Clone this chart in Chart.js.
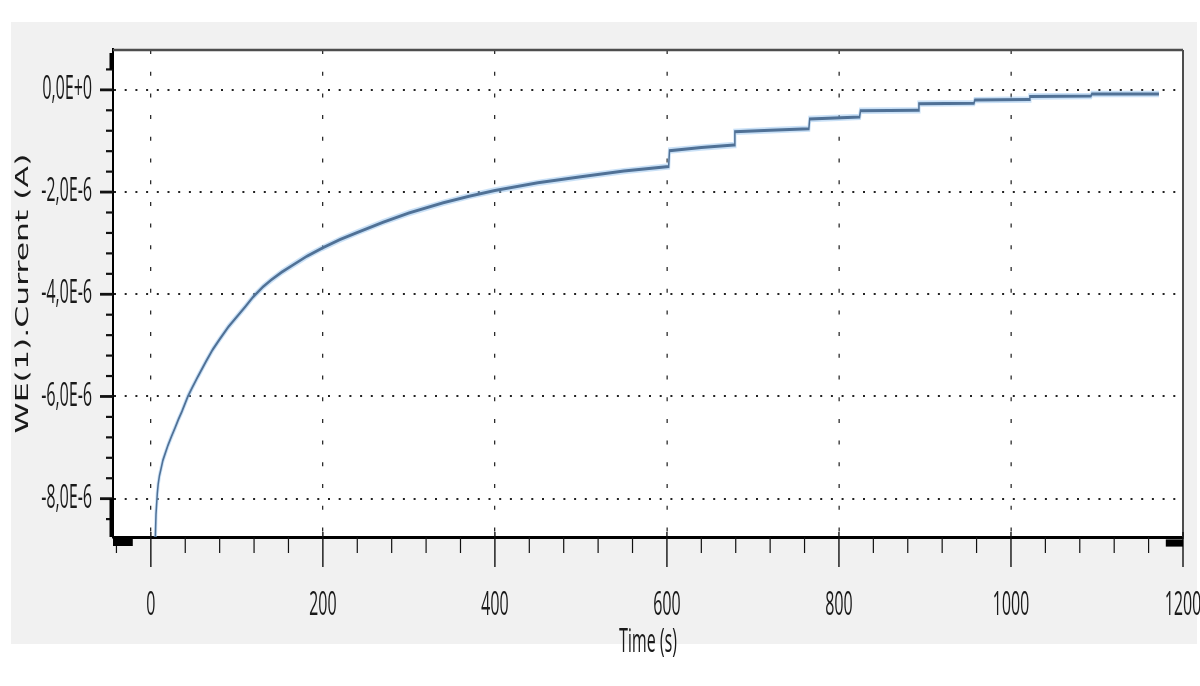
<!DOCTYPE html>
<html>
<head>
<meta charset="utf-8">
<script src="https://cdn.jsdelivr.net/npm/chart.js@4"></script>
<style>
  html, body { margin: 0; padding: 0; background: #ffffff; width: 1200px; height: 686px; overflow: hidden; }
  #page { position: relative; width: 1200px; height: 686px; overflow: hidden; }
  /* the plot is laid out at half height and stretched vertically to the page */
  #frame { position: absolute; left: 0; top: 0; width: 1200px; height: 343px; transform: scaleY(2); transform-origin: 0 0; }
  #frame canvas { display: block; }
</style>
</head>
<body>
<div id="page"><div id="frame"><canvas id="chart"></canvas></div></div>
<script>
// chronoamperometry record: time (s) and working-electrode current (A)
const timeS = [4, 5, 6, 7.5, 8.5, 10, 12, 14, 17, 20, 24, 28, 32, 36, 43, 48, 55, 64, 72, 80,
  90, 100, 110, 119, 130, 140, 152, 165, 182, 200, 220, 240, 270, 300, 340, 370, 400, 450,
  500, 550, 602, 603, 640, 678, 679, 720, 765, 766, 824, 825, 892, 893, 957, 958, 1021,
  1022, 1093, 1094, 1172];
const currentA = [-9.8e-6, -8.9e-6, -8.3e-6, -7.9e-6, -7.72e-6, -7.55e-6, -7.4e-6, -7.25e-6,
  -7.1e-6, -6.95e-6, -6.78e-6, -6.62e-6, -6.45e-6, -6.3e-6, -6.0e-6, -5.83e-6, -5.6e-6,
  -5.32e-6, -5.08e-6, -4.88e-6, -4.64e-6, -4.44e-6, -4.24e-6, -4.05e-6, -3.86e-6, -3.72e-6,
  -3.57e-6, -3.43e-6, -3.25e-6, -3.09e-6, -2.93e-6, -2.79e-6, -2.59e-6, -2.41e-6, -2.21e-6,
  -2.08e-6, -1.97e-6, -1.82e-6, -1.70e-6, -1.59e-6, -1.50e-6, -1.19e-6, -1.13e-6, -1.08e-6,
  -0.82e-6, -0.79e-6, -0.76e-6, -0.57e-6, -0.53e-6, -0.41e-6, -0.40e-6, -0.27e-6, -0.26e-6,
  -0.20e-6, -0.19e-6, -0.13e-6, -0.12e-6, -0.08e-6, -0.08e-6];

// axes
const xRange = [-44, 1200];
const yRange = [-8.75e-6, 0.78e-6];
const xTickValues = [0, 200, 400, 600, 800, 1000, 1200];
const xTickLabels = ['0', '200', '400', '600', '800', '1000', '1200'];
const yTickValues = [-8e-6, -6e-6, -4e-6, -2e-6, 0];
const yTickLabels = ['-8,0E-6', '-6,0E-6', '-4,0E-6', '-2,0E-6', '0,0E+0'];
const xMinorStep = 40;
const yMinorStep = 0.4e-6;
const xTitle = 'Time (s)';
const yTitle = 'WE(1).Current (A)';

// range handles drawn on the axes (value spans)
const yHandleTop = 0.4e-6;
const yHandleBottom = -8e-6;
const xHandleLeft = -21;
const xHandleRight = 1180;

const points = timeS.map((t, i) => ({ x: t, y: currentA[i] }));

const panel = {
  id: 'panel',
  beforeDraw(chart) {
    const { ctx, chartArea: a, width, height } = chart;
    ctx.save();
    ctx.fillStyle = '#ffffff';
    ctx.fillRect(0, 0, width, height);
    ctx.fillStyle = '#f1f1f1';
    ctx.fillRect(11, 11, 1186, 311);
    ctx.fillStyle = '#ffffff';
    ctx.fillRect(a.left, a.top, a.right - a.left, a.bottom - a.top);
    ctx.restore();
  },
  afterDraw(chart) {
    const { ctx, chartArea: a } = chart;
    const xs = chart.scales.x, ys = chart.scales.y;
    ctx.save();
    // frame on top and right
    ctx.strokeStyle = '#4d4d4d';
    ctx.lineWidth = 1.3;
    ctx.beginPath();
    ctx.moveTo(a.left, a.top);
    ctx.lineTo(a.right, a.top);
    ctx.stroke();
    ctx.lineWidth = 2;
    ctx.beginPath();
    ctx.moveTo(a.right, a.top);
    ctx.lineTo(a.right, a.bottom);
    ctx.stroke();

    // tick marks on the time axis
    ctx.strokeStyle = '#111111';
    const kx0 = Math.ceil(xRange[0] / xMinorStep), kx1 = Math.floor(xRange[1] / xMinorStep);
    for (let k = kx0; k <= kx1; k++) {
      const v = k * xMinorStep;
      const px = xs.getPixelForValue(v);
      const major = xTickValues.includes(v);
      ctx.lineWidth = major ? 1.4 : 1.2;
      ctx.beginPath();
      ctx.moveTo(px, major ? a.bottom - 2.5 : a.bottom);
      ctx.lineTo(px, a.bottom + (major ? 15 : 8));
      ctx.stroke();
    }
    // tick marks on the current axis
    const ky0 = Math.ceil(yRange[0] / yMinorStep - 1e-9), ky1 = Math.floor(yRange[1] / yMinorStep + 1e-9);
    for (let k = ky0; k <= ky1; k++) {
      const v = k * yMinorStep;
      const py = ys.getPixelForValue(v);
      const major = k % 5 === 0;
      ctx.lineWidth = major ? 1.4 : 1.1;
      ctx.beginPath();
      ctx.moveTo(a.left - (major ? 13 : 7), py);
      ctx.lineTo(a.left, py);
      ctx.stroke();
    }

    // range handles
    ctx.fillStyle = '#000000';
    const pyTop = ys.getPixelForValue(yHandleTop);
    ctx.fillRect(a.left - 3.5, a.top + 1.5, 3.5, pyTop - a.top - 1.5);
    const pyBot = ys.getPixelForValue(yHandleBottom);
    ctx.fillRect(a.left - 3.5, pyBot, 3.5, a.bottom - pyBot);
    const pxL = xs.getPixelForValue(xHandleLeft);
    ctx.fillRect(a.left, a.bottom, pxL - a.left, 4.5);
    const pxR = xs.getPixelForValue(xHandleRight);
    ctx.fillRect(pxR, a.bottom + 1.2, a.right - pxR, 3.6);
    ctx.restore();
  }
};

Chart.defaults.font.family = "'Open Sans', 'Noto Sans', sans-serif";
Chart.defaults.color = '#1a1a1a';

new Chart(document.getElementById('chart'), {
  type: 'line',
  data: {
    datasets: [
      {
        data: points,
        borderColor: 'rgba(150, 195, 240, 0.5)',
        borderWidth: 3.2,
        pointRadius: 0,
        tension: 0,
        fill: false
      },
      {
        data: points,
        borderColor: '#0a1f3d',
        borderWidth: 1.5,
        pointRadius: 0,
        tension: 0,
        fill: false
      }
    ]
  },
  options: {
    animation: false,
    responsive: true,
    maintainAspectRatio: false,
    devicePixelRatio: 2,
    events: [],
    layout: { padding: { left: 0, right: 17, top: 25, bottom: 0 } },
    plugins: { legend: { display: false }, tooltip: { enabled: false } },
    scales: {
      x: {
        type: 'linear',
        min: xRange[0],
        max: xRange[1],
        afterBuildTicks: s => { s.ticks = xTickValues.map(v => ({ value: v })); },
        afterFit: s => { s.height = 74.5; s.paddingLeft = 0; s.paddingRight = 0; },
        ticks: {
          autoSkip: false,
          maxRotation: 0,
          padding: 25,
          font: { size: 16 },
          color: '#1a1a1a',
          callback: (v, i) => xTickLabels[i]
        },
        grid: { color: '#2b2b2b', lineWidth: 1.3, drawTicks: false },
        border: { display: true, color: '#000000', width: 1.5, dash: [2, 8.85] },
        title: {
          display: true,
          text: xTitle,
          font: { size: 16 },
          color: '#1a1a1a',
          padding: { top: 0, bottom: 11.9 }
        }
      },
      y: {
        type: 'linear',
        min: yRange[0],
        max: yRange[1],
        afterBuildTicks: s => { s.ticks = yTickValues.map(v => ({ value: v })); },
        afterFit: s => { s.width = 113; s.paddingTop = 0; s.paddingBottom = 0; },
        ticks: {
          autoSkip: false,
          padding: 21,
          font: { size: 16 },
          color: '#1a1a1a',
          callback: (v, i) => yTickLabels[i]
        },
        grid: { color: '#222222', lineWidth: 1, drawTicks: false },
        border: { display: true, color: '#000000', width: 2, dash: [2, 8.7] },
        title: {
          display: true,
          text: yTitle,
          font: { family: "'Liberation Sans Narrow', 'DejaVu Sans Condensed', 'Open Sans', sans-serif", size: 17.5 },
          color: '#1a1a1a',
          padding: { top: 12.9, bottom: 0 }
        }
      }
    }
  },
  plugins: [panel]
});
</script>
</body>
</html>
